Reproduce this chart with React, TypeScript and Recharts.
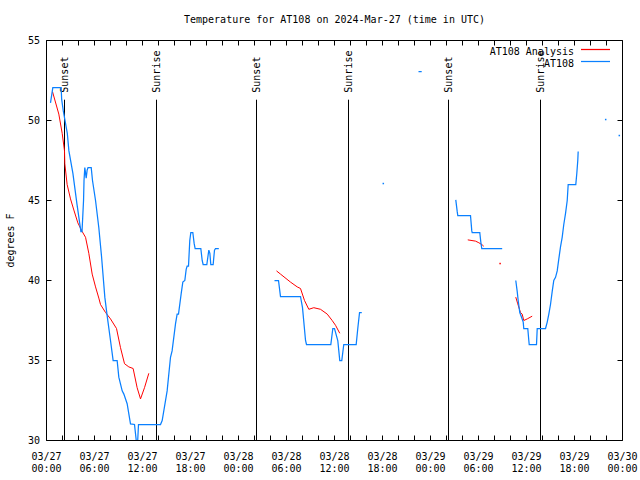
import React from 'react';
import { ComposedChart, Line, XAxis, YAxis, ReferenceLine, Scatter, Legend } from 'recharts';

type Pt = [number, number];

// hours since 03/27 00:00 UTC, temperature °F
const analysisDay1: Pt[] = [
  [0.75, 51.8], [1.54, 50.4], [1.96, 49.2], [2.25, 48.1], [2.29, 47.3], [2.58, 46.0],
  [3.0, 45.1], [3.42, 44.4], [3.92, 43.6], [4.46, 43.06], [4.88, 42.7], [5.29, 41.7],
  [5.71, 40.4], [6.13, 39.6], [6.54, 38.9], [6.75, 38.5], [7.38, 38.0], [8.0, 37.6],
  [8.75, 37.0], [9.25, 35.8], [9.75, 34.8], [10.29, 34.6], [10.83, 34.5], [11.33, 33.3],
  [11.75, 32.6], [12.25, 33.3], [12.79, 34.2],
];
const analysisDay2: Pt[] = [
  [28.75, 40.6], [29.25, 40.4], [30.5, 39.9], [31.34, 39.6], [31.75, 39.5], [32.25, 38.75],
  [32.79, 38.2], [33.41, 38.3], [34.25, 38.2], [35.09, 37.9], [35.71, 37.5], [36.13, 37.2],
  [36.66, 36.7],
];
const analysisDay3a: Pt[] = [
  [52.66, 42.54], [53.63, 42.46], [54.04, 42.36], [54.46, 42.23], [54.66, 42.14],
];
const analysisDay3b: Pt[] = [
  [58.66, 38.96], [58.91, 38.54], [59.25, 38.0], [59.46, 37.9], [59.66, 37.5], [60.09, 37.6],
  [60.71, 37.77],
];
const analysisSingles: Pt[] = [[56.7, 41.06]];

const stationDay1: Pt[] = [
  [0.5, 51.1], [0.79, 52.05], [1.83, 52.05], [1.9, 51.3], [2.1, 50.6], [2.6, 49.2],
  [2.8, 48.1], [3.3, 46.7], [3.8, 44.8], [4.3, 43.06], [4.44, 43.06], [4.63, 45.0],
  [4.69, 46.25], [4.79, 47.06], [4.96, 46.4], [5.08, 46.9], [5.19, 47.05], [5.59, 47.05],
  [5.75, 46.25], [6.13, 45.0], [6.54, 43.3], [6.88, 41.5], [7.29, 38.96], [7.58, 37.8],
  [8.0, 36.25], [8.33, 35.0], [8.83, 35.0], [9.04, 33.96], [9.46, 33.1], [9.67, 32.9],
  [10.08, 32.3], [10.5, 31.04], [11.0, 31.0], [11.22, 30.0], [11.4, 30.0], [11.5, 31.0],
  [14.25, 31.0], [14.46, 31.25], [15.08, 33.1], [15.5, 35.2], [15.7, 35.6], [16.13, 37.3],
  [16.33, 37.9], [16.5, 37.9], [16.84, 39.2], [17.04, 39.9], [17.29, 40.0], [17.46, 40.7],
  [17.58, 40.9], [17.75, 40.9], [17.91, 42.5], [18.04, 43.0], [18.29, 43.0], [18.46, 42.3],
  [18.58, 42.0], [19.29, 42.0], [19.46, 41.25], [19.58, 41.0], [20.04, 41.0], [20.29, 41.9],
  [20.42, 41.7], [20.54, 41.0], [20.83, 41.0], [21.0, 41.9], [21.13, 42.0], [21.54, 42.0],
];
const stationDay2: Pt[] = [
  [28.5, 40.0], [29.0, 40.0], [29.25, 39.0], [31.75, 39.0], [32.0, 38.3], [32.38, 36.25],
  [32.5, 36.0], [35.54, 36.0], [35.79, 37.0], [36.0, 37.0], [36.41, 36.25], [36.66, 35.0],
  [36.91, 35.0], [37.16, 36.0], [38.71, 36.0], [38.91, 37.0], [39.13, 38.0], [39.41, 38.0],
];
const stationDash: Pt[] = [[46.5, 53.06], [46.9, 53.06]];
const stationDay3a: Pt[] = [
  [51.16, 45.04], [51.34, 44.3], [51.41, 44.06], [53.0, 44.06], [53.16, 43.1], [53.21, 43.0],
  [54.16, 43.0], [54.29, 42.4], [54.41, 42.0], [56.96, 42.0],
];
const stationDay3b: Pt[] = [
  [58.66, 40.0], [58.84, 39.3], [58.96, 38.75], [59.16, 38.0], [59.38, 37.7], [59.59, 37.4],
  [59.66, 37.0], [60.16, 37.0], [60.29, 36.25], [60.34, 36.0], [61.25, 36.0], [61.34, 37.0],
  [62.38, 37.0], [62.59, 37.4], [62.79, 37.9], [63.0, 38.5], [63.21, 39.3], [63.41, 40.0],
  [63.63, 40.2], [63.84, 40.6], [64.04, 41.35], [64.25, 42.1], [64.46, 42.7], [64.66, 43.5],
  [64.88, 44.2], [65.09, 45.0], [65.21, 46.0], [66.16, 46.0], [66.29, 46.7], [66.41, 47.5],
  [66.46, 48.06],
];
const stationSingles: Pt[] = [[42.1, 46.06], [69.9, 50.06], [71.6, 49.06]];

const sunEvents: { h: number; label: string }[] = [
  { h: 2.25, label: 'Sunset' },
  { h: 13.75, label: 'Sunrise' },
  { h: 26.25, label: 'Sunset' },
  { h: 37.75, label: 'Sunrise' },
  { h: 50.25, label: 'Sunset' },
  { h: 61.75, label: 'Sunrise' },
];
const sunLineTop = 51.3;

const xTicks = [0, 2, 4, 6, 8, 10, 12, 14, 16, 18, 20, 22, 24, 26, 28, 30, 32, 34, 36, 38, 40, 42, 44, 46, 48, 50, 52, 54, 56, 58, 60, 62, 64, 66, 68, 70, 72];
const yTicks = [30, 35, 40, 45, 50, 55];
const dayLabels = ['03/27', '03/28', '03/29', '03/30'];

const TITLE = 'Temperature for AT108 on 2024-Mar-27 (time in UTC)';
const Y_LABEL = 'degrees F';
const ANALYSIS = 'AT108 Analysis';
const STATION = 'AT108';
const RED = '#ff0000';
const BLUE = '#0a80ff';
const FONT = '"DejaVu Sans Mono", monospace';

const rows = (pts: Pt[]) => pts.map(([h, t]) => ({ h, t }));

const BottomTick = (props: any) => {
  const { x, y, payload } = props;
  const v = payload.value as number;
  const major = v % 6 === 0;
  const day = dayLabels[Math.floor(v / 24)];
  const hh = String(v % 24).padStart(2, '0') + ':00';
  return (
    <g>
      <line x1={x} x2={x} y1={y} y2={y - 5} stroke="#000" />
      {major && (
        <text x={x} y={y + 19} textAnchor="middle" fontFamily={FONT} fontSize={10} fill="#000">
          <tspan x={x}>{day}</tspan>
          <tspan x={x} dy={12}>{hh}</tspan>
        </text>
      )}
    </g>
  );
};
const TopTick = (props: any) => {
  const { x, y } = props;
  return <line x1={x} x2={x} y1={y} y2={y + 5} stroke="#000" />;
};
const LeftTick = (props: any) => {
  const { x, y, payload } = props;
  return (
    <g>
      <line x1={x} x2={x + 5} y1={y} y2={y} stroke="#000" />
      <text x={x - 6.5} y={y + 3.5} textAnchor="end" fontFamily={FONT} fontSize={10} fill="#000">
        {payload.value}
      </text>
    </g>
  );
};
const RightTick = (props: any) => {
  const { x, y } = props;
  return <line x1={x} x2={x - 5} y1={y} y2={y} stroke="#000" />;
};

const renderTitle = (props: any) => {
  const vb = props.viewBox || { x: 46.5, y: 39.5, width: 576, height: 1 };
  return (
    <text x={vb.x + vb.width / 2} y={vb.y + vb.height - 17.5} textAnchor="middle" fontFamily={FONT} fontSize={10} fill="#000">
      {TITLE}
    </text>
  );
};
const renderYLabel = (props: any) => {
  const vb = props.viewBox || { x: 45.5, y: 40.5, width: 1, height: 400 };
  const cx = vb.x + vb.width - 32.5;
  const cy = vb.y + vb.height / 2;
  return (
    <text x={cx} y={cy} transform={`rotate(-90 ${cx} ${cy})`} textAnchor="middle" fontFamily={FONT} fontSize={10} fill="#000">
      {Y_LABEL}
    </text>
  );
};
const sunLabel = (text: string) => (props: any) => {
  const vb = props.viewBox;
  if (!vb) return null;
  const tx = vb.x + 4;
  const ty = vb.y - 7;
  return (
    <text x={tx} y={ty} transform={`rotate(-90 ${tx} ${ty})`} textAnchor="start" fontFamily={FONT} fontSize={10} fill="#000">
      {text}
    </text>
  );
};

const renderLegend = (props: any) => {
  const items = (props.payload || []) as any[];
  const order = [ANALYSIS, STATION];
  const list = order
    .map((name) => items.find((p) => p.value === name))
    .filter(Boolean) as any[];
  return (
    <svg width={160} height={32} style={{ display: 'block', overflow: 'visible' }}>
      {list.map((p, i) => (
        <g key={p.value}>
          <text x={104} y={14.5 + i * 12} textAnchor="end" fontFamily={FONT} fontSize={10} fill="#000">
            {p.value}
          </text>
          <line x1={111} x2={140} y1={9.5 + i * 12} y2={9.5 + i * 12} stroke={p.color} strokeWidth={1.25} />
        </g>
      ))}
    </svg>
  );
};

const dotShape = (color: string) => (props: any) => {
  const { cx, cy } = props;
  return <rect x={cx - 0.75} y={cy - 0.75} width={1.5} height={1.5} fill={color} />;
};

const analysisSegments = [analysisDay1, analysisDay2, analysisDay3a, analysisDay3b];
const stationSegments = [stationDay1, stationDay2, stationDash, stationDay3a, stationDay3b];

export default function App() {
  return (
    <div style={{ position: 'absolute', left: 0, top: 0, background: '#fff' }}>
      <ComposedChart width={640} height={480} margin={{ top: 39.5, right: 16.5, bottom: 38.5, left: 45.5 }}>
        <XAxis
          xAxisId="b"
          dataKey="h"
          type="number"
          domain={[0, 72]}
          ticks={xTicks}
          interval={0}
          height={1}
          tickSize={0}
          tickMargin={0}
          tickLine={false}
          tick={<BottomTick />}
          axisLine={{ stroke: '#000' }}
          allowDataOverflow
        />
        <XAxis
          xAxisId="t"
          orientation="top"
          dataKey="h"
          type="number"
          domain={[0, 72]}
          ticks={xTicks}
          interval={0}
          height={1}
          tickSize={0}
          tickMargin={0}
          tickLine={false}
          tick={<TopTick />}
          axisLine={{ stroke: '#000' }}
          allowDataOverflow
          label={renderTitle}
        />
        <YAxis
          yAxisId="l"
          dataKey="t"
          type="number"
          domain={[30, 55]}
          ticks={yTicks}
          interval={0}
          width={1}
          tickSize={0}
          tickMargin={0}
          tickLine={false}
          tick={<LeftTick />}
          axisLine={{ stroke: '#000' }}
          allowDataOverflow
          label={renderYLabel}
        />
        <YAxis
          yAxisId="r"
          orientation="right"
          dataKey="t"
          type="number"
          domain={[30, 55]}
          ticks={yTicks}
          interval={0}
          width={1}
          tickSize={0}
          tickMargin={0}
          tickLine={false}
          tick={<RightTick />}
          axisLine={{ stroke: '#000' }}
          allowDataOverflow
        />
        {sunEvents.map((e, i) => (
          <ReferenceLine
            key={'sun' + i}
            xAxisId="b"
            yAxisId="l"
            segment={[{ x: e.h, y: sunLineTop }, { x: e.h, y: 30 }]}
            stroke="#000"
            strokeWidth={1}
            label={sunLabel(e.label)}
          />
        ))}
        {analysisSegments.map((seg, i) => (
          <Line
            key={'a' + i}
            xAxisId="b"
            yAxisId="l"
            data={rows(seg)}
            dataKey="t"
            name={ANALYSIS}
            type="linear"
            stroke={RED}
            strokeWidth={1}
            dot={false}
            activeDot={false}
            legendType={i === 0 ? 'line' : 'none'}
            isAnimationActive={false}
          />
        ))}
        {stationSegments.map((seg, i) => (
          <Line
            key={'s' + i}
            xAxisId="b"
            yAxisId="l"
            data={rows(seg)}
            dataKey="t"
            name={STATION}
            type="linear"
            stroke={BLUE}
            strokeWidth={1.25}
            dot={false}
            activeDot={false}
            legendType={i === 0 ? 'line' : 'none'}
            isAnimationActive={false}
          />
        ))}
        <Scatter
          xAxisId="t"
          yAxisId="r"
          data={rows(analysisSingles)}
          dataKey="t"
          fill={RED}
          shape={dotShape(RED)}
          legendType="none"
          isAnimationActive={false}
        />
        <Scatter
          xAxisId="t"
          yAxisId="r"
          data={rows(stationSingles)}
          dataKey="t"
          fill={BLUE}
          shape={dotShape(BLUE)}
          legendType="none"
          isAnimationActive={false}
        />
        <Legend
          layout="vertical"
          align="center"
          verticalAlign="middle"
          wrapperStyle={{ left: 470, top: 40, width: 160, height: 32 }}
          content={renderLegend}
        />
      </ComposedChart>
    </div>
  );
}
